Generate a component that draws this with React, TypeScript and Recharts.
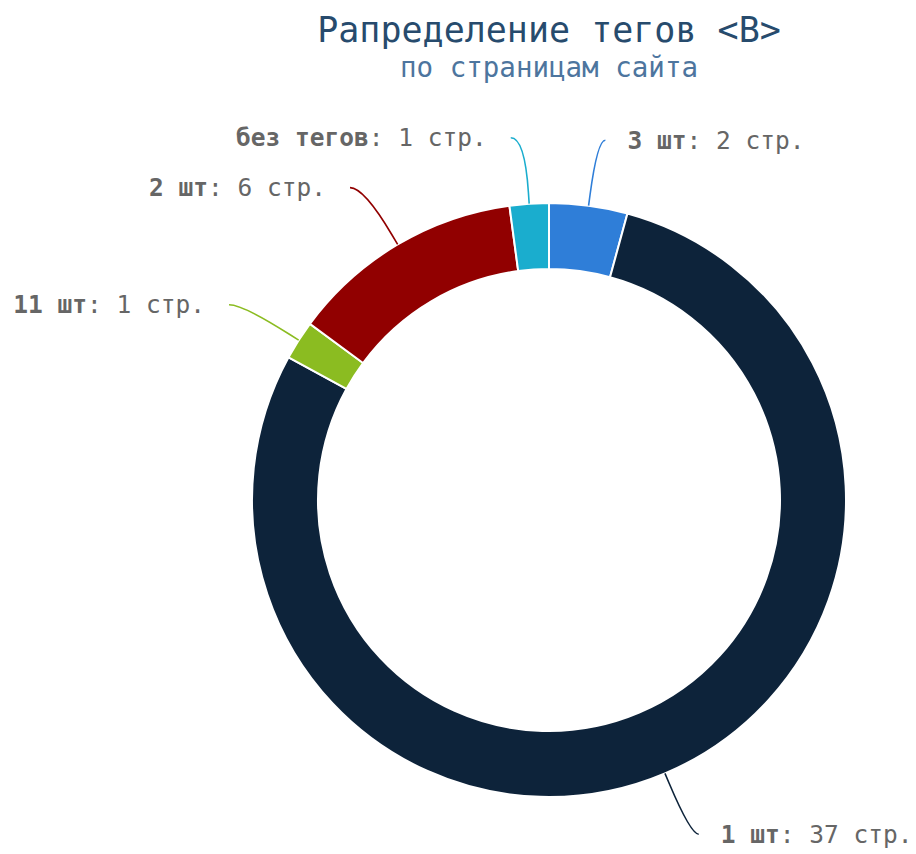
import React from 'react';
import { PieChart, Pie, Cell } from 'recharts';

const categories = ['3 шт', '1 шт', '11 шт', '2 шт', 'без тегов'];
const pages = [2, 37, 1, 6, 1];
const colors = ['#2f7ed8', '#0d233a', '#8bbc21', '#910000', '#1aadce'];

const titleText = 'Рапределение тегов <B>';
const subtitleText = 'по страницам сайта';

const chartData = categories.map((name, i) => ({ name, value: pages[i] }));

const RAD = Math.PI / 180;
const FONT = '"DejaVu Sans Mono", monospace';

function renderLabel(props: any) {
  const { cx, cy, midAngle, outerRadius, index } = props;
  const c = Math.cos(-midAngle * RAD);
  const s = Math.sin(-midAngle * RAD);
  const right = c >= 0;
  const ax = cx + (outerRadius + 66) * c;
  const ay = cy + (outerRadius + 66) * s;
  const ex = cx + outerRadius * c;
  const ey = cy + outerRadius * s;
  const bx = cx + (outerRadius + 11) * c;
  const by = cy + (outerRadius + 11) * s;
  const qx = cx + (outerRadius + 22) * c;
  const qy = cy + (outerRadius + 22) * s;
  const endX = right ? ax + 8 : ax - 14;
  const textX = right ? ax + 30 : ax - 38;
  const d = `M${endX},${ay} C${ax},${ay} ${qx},${qy} ${bx},${by} L${ex},${ey}`;
  return (
    <g key={`lbl-${index}`}>
      <path d={d} fill="none" stroke={colors[index]} strokeWidth={1.6} />
      <text
        x={textX}
        y={ay}
        dy="0.35em"
        textAnchor={right ? 'start' : 'end'}
        fill="#666666"
        fontFamily={FONT}
        fontSize={24.5}
      >
        <tspan fontWeight="bold">{categories[index]}</tspan>
        <tspan>: {pages[index]} стр.</tspan>
      </text>
    </g>
  );
}

export default function App() {
  return (
    <div style={{ position: 'relative', width: 908, height: 846 }}>
      <PieChart
        width={908}
        height={846}
        margin={{ top: 0, right: 0, bottom: 0, left: 0 }}
        style={{ overflow: 'visible' }}
      >
        <Pie
          data={chartData}
          dataKey="value"
          nameKey="name"
          cx={541}
          cy={492}
          innerRadius={231}
          outerRadius={297}
          startAngle={90}
          endAngle={-270}
          stroke="#ffffff"
          strokeWidth={2}
          label={renderLabel}
          labelLine={false}
          isAnimationActive={false}
        >
          {chartData.map((d, i) => (
            <Cell key={d.name} fill={colors[i]} />
          ))}
        </Pie>
      </PieChart>
      <svg
        width={908}
        height={90}
        style={{ position: 'absolute', top: 0, left: 0, pointerEvents: 'none' }}
      >
        <text
          x={541}
          y={33.5}
          textAnchor="middle"
          fill="#274b6d"
          fontFamily={FONT}
          fontSize={35}
        >
          {titleText}
        </text>
        <text
          x={541}
          y={69}
          textAnchor="middle"
          fill="#4d759e"
          fontFamily={FONT}
          fontSize={27.5}
        >
          {subtitleText}
        </text>
      </svg>
    </div>
  );
}
